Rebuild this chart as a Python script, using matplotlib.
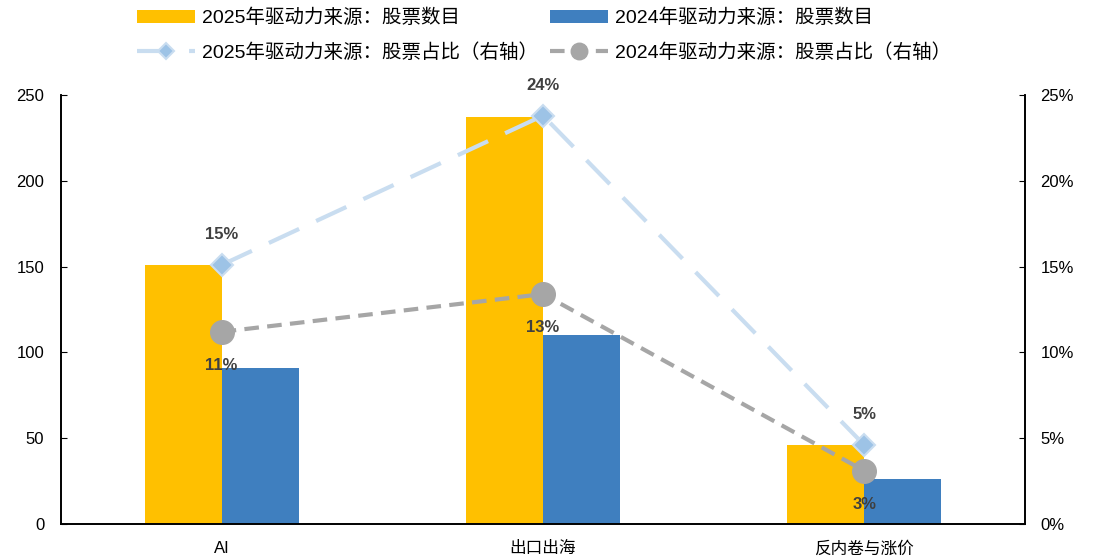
import numpy as np
import matplotlib
matplotlib.use('Agg')
import matplotlib.pyplot as plt
from matplotlib.ticker import FuncFormatter

plt.rcParams['font.family'] = ['Liberation Sans', 'Noto Sans CJK SC', 'DejaVu Sans']

# данные
categories = ['AI', '出口出海', '反内卷与涨价']
count_2025 = [151, 237, 46]
count_2024 = [91, 110, 26]
share_2025 = [0.151, 0.238, 0.046]
share_2024 = [0.112, 0.134, 0.031]
labels_2025 = ['15%', '24%', '5%']
labels_2024 = ['11%', '13%', '3%']

name_bar_2025 = '2025年驱动力来源：股票数目'
name_bar_2024 = '2024年驱动力来源：股票数目'
name_line_2025 = '2025年驱动力来源：股票占比（右轴）'
name_line_2024 = '2024年驱动力来源：股票占比（右轴）'

fig = plt.figure(figsize=(10.93, 5.59), dpi=100)
ax = fig.add_axes([0.0558, 0.0626, 0.882, 0.7674])
ax2 = ax.twinx()

x = np.arange(len(categories))
w = 0.24
b1 = ax.bar(x - w / 2, count_2025, w, color='#FFC000', label=name_bar_2025, zorder=2)
b2 = ax.bar(x + w / 2, count_2024, w, color='#3F7FBF', label=name_bar_2024, zorder=2)

ax.set_xlim(-0.5, 2.5)
ax.set_ylim(0, 250)
ax.set_yticks(range(0, 251, 50))
ax.set_xticks(x)
ax.set_xticklabels(categories, fontsize=12)
ax.tick_params(axis='x', length=0, pad=12)
ax.tick_params(axis='y', direction='in', length=4, labelsize=12, pad=12)

ax2.set_ylim(0, 0.25)
ax2.set_yticks(np.arange(0, 0.251, 0.05))
ax2.yaxis.set_major_formatter(FuncFormatter(lambda v, p: f'{v * 100:.0f}%'))
ax2.tick_params(axis='y', direction='in', length=4, labelsize=12, pad=11)

for a in (ax, ax2):
    a.spines['top'].set_visible(False)
    for s in ('left', 'right', 'bottom'):
        a.spines[s].set_color('black')
        a.spines[s].set_linewidth(1.2)

l1, = ax2.plot(x, share_2025, color='#C9DDF0', lw=3, dashes=(8, 4.5),
               marker='D', markersize=11, markerfacecolor='#9DC3E6',
               markeredgecolor='#C9DDF0', markeredgewidth=1.5,
               label=name_line_2025, zorder=3)
l2, = ax2.plot(x, share_2024, color='#A6A6A6', lw=3, dashes=(3.5, 2),
               marker='o', markersize=17, markerfacecolor='#A6A6A6',
               markeredgecolor='#A6A6A6', label=name_line_2024, zorder=4)

for xi, v, t in zip(x, share_2025, labels_2025):
    ax2.annotate(t, (xi, v), xytext=(0, 22), textcoords='offset points',
                 ha='center', va='center', fontsize=12, fontweight='bold', color='#404040')
for xi, v, t in zip(x, share_2024, labels_2024):
    ax2.annotate(t, (xi, v), xytext=(0, -24), textcoords='offset points',
                 ha='center', va='center', fontsize=12, fontweight='bold', color='#404040')

fig.legend([b1, l1, b2, l2], [name_bar_2025, name_line_2025, name_bar_2024, name_line_2024],
           ncol=2, loc='upper left', bbox_to_anchor=(137 / 1093, 1 - 9 / 559),
           frameon=False, fontsize=14, handlelength=3, columnspacing=0.6,
           labelspacing=0.8, handletextpad=0.35, borderpad=0, borderaxespad=0,
           markerscale=0.7)

fig.savefig('out.png', dpi=100)
